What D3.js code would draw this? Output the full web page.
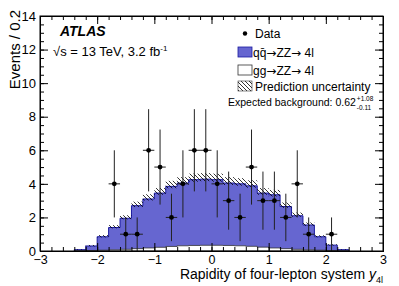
<!DOCTYPE html>
<html>
<head>
<meta charset="utf-8">
<script src="https://cdn.jsdelivr.net/npm/d3@7"></script>
<style>
  body { margin: 0; background: #fff; }
  text { font-family: "Liberation Sans", Arial, sans-serif; fill: #000; }
  .seta { font-family: "DejaVu Sans", sans-serif; }
</style>
</head>
<body>
<svg id="grafico"></svg>
<script>
// bins of width 0.2, lower edges
const binEdges = [-2.4, -2.2, -2.0, -1.8, -1.6, -1.4, -1.2, -1.0, -0.8, -0.6, -0.4, -0.2,
                  0.0, 0.2, 0.4, 0.6, 0.8, 1.0, 1.2, 1.4, 1.6, 1.8, 2.0, 2.2];
// gg -> ZZ -> 4l (white)
const ggValues = [0.01, 0.03, 0.05, 0.07, 0.10, 0.14, 0.18, 0.22, 0.27, 0.31, 0.33, 0.34,
                  0.34, 0.33, 0.31, 0.28, 0.23, 0.18, 0.14, 0.10, 0.07, 0.05, 0.03, 0.01];
// total (qq + gg) stacked height
const totalValues = [0.08, 0.30, 0.85, 1.40, 1.95, 2.70, 3.10, 3.45, 3.85, 4.05, 4.25, 4.28,
                     4.25, 4.05, 4.00, 3.88, 3.45, 3.35, 2.65, 2.10, 1.55, 0.85, 0.35, 0.08];
// prediction uncertainty (up / down)
const uncUp = [0.03, 0.06, 0.10, 0.14, 0.18, 0.24, 0.28, 0.30, 0.33, 0.35, 0.36, 0.36,
               0.36, 0.35, 0.34, 0.33, 0.30, 0.29, 0.24, 0.19, 0.15, 0.09, 0.05, 0.03];
const uncDn = [0.01, 0.02, 0.04, 0.05, 0.06, 0.08, 0.09, 0.10, 0.11, 0.12, 0.12, 0.12,
               0.12, 0.12, 0.11, 0.11, 0.10, 0.10, 0.08, 0.06, 0.05, 0.03, 0.02, 0.01];

const dataX = [-1.7, -1.5, -1.3, -1.1, -0.9, -0.7, -0.5, -0.3, -0.1, 0.1, 0.3, 0.5, 0.7, 0.9, 1.1, 1.3, 1.5, 1.7, 2.1];
const dataY = [4, 1, 1, 6, 5, 2, 4, 6, 6, 4, 3, 2, 5, 3, 3, 2, 4, 1, 1];

const xTicks = [-3, -2, -1, 0, 1, 2, 3];
const yTicks = [0, 2, 4, 6, 8, 10, 12, 14];

const largura = 399, altura = 286;
const margem = { esquerda: 40, direita: 16, superior: 16, inferior: 35 };
const larguraPlotagem = largura - margem.esquerda - margem.direita;
const alturaPlotagem = altura - margem.superior - margem.inferior;
const binW = 0.2;

let svg = d3.select('#grafico').attr('width', largura).attr('height', altura);

let defs = svg.append('defs');
defs.append('pattern')
    .attr('id', 'hachura')
    .attr('patternUnits', 'userSpaceOnUse')
    .attr('width', 4).attr('height', 4)
    .append('path')
    .attr('d', 'M0,0 L4,4 M-1,3 L1,5 M3,-1 L5,1')
    .attr('stroke', '#000').attr('stroke-width', 0.8);

let plotagem = svg.append('g')
    .attr('transform', 'translate(' + margem.esquerda + ',' + margem.superior + ')');

let fnX = d3.scaleLinear().domain([-3, 3]).range([0, larguraPlotagem]);
let fnY = d3.scaleLinear().domain([0, 14]).range([alturaPlotagem, 0]);

// step outline of a histogram
function areaDegraus(valores) {
    let pts = [];
    binEdges.forEach((e, i) => {
        pts.push([fnX(e), fnY(valores[i])]);
        pts.push([fnX(e + binW), fnY(valores[i])]);
    });
    let first = binEdges[0], last = binEdges[binEdges.length - 1] + binW;
    return 'M' + fnX(first) + ',' + fnY(0) + 'L' + pts.map(p => p.join(',')).join('L') +
        'L' + fnX(last) + ',' + fnY(0) + 'Z';
}

// qq (blue) stacked on top
plotagem.append('path')
    .attr('d', areaDegraus(totalValues))
    .attr('fill', '#6666d0')
    .attr('stroke', '#1a1aa0')
    .attr('stroke-width', 1);

// gg (white)
plotagem.append('path')
    .attr('d', areaDegraus(ggValues))
    .attr('fill', '#fff')
    .attr('stroke', '#333')
    .attr('stroke-width', 0.8);

// uncertainty band
plotagem.selectAll('.banda')
    .data(binEdges)
    .enter()
    .append('rect')
    .classed('banda', true)
    .attr('x', (d) => fnX(d))
    .attr('width', fnX(binW) - fnX(0))
    .attr('y', (d, i) => fnY(totalValues[i] + uncUp[i]))
    .attr('height', (d, i) => fnY(totalValues[i] - uncDn[i]) - fnY(totalValues[i] + uncUp[i]))
    .attr('fill', 'url(#hachura)');

// data points with sqrt(N) errors
let pontos = plotagem.selectAll('.ponto').data(dataX.map((x, i) => ({ x: x, y: dataY[i] })))
    .enter().append('g').classed('ponto', true);
pontos.append('line')
    .attr('x1', (d) => fnX(d.x)).attr('x2', (d) => fnX(d.x))
    .attr('y1', (d) => fnY(d.y + Math.sqrt(d.y)))
    .attr('y2', (d) => fnY(Math.max(0, d.y - Math.sqrt(d.y))))
    .attr('stroke', '#222').attr('stroke-width', 1);
pontos.append('line')
    .attr('x1', (d) => fnX(d.x - binW / 2)).attr('x2', (d) => fnX(d.x + binW / 2))
    .attr('y1', (d) => fnY(d.y)).attr('y2', (d) => fnY(d.y))
    .attr('stroke', '#222').attr('stroke-width', 1);
pontos.append('circle')
    .attr('cx', (d) => fnX(d.x)).attr('cy', (d) => fnY(d.y))
    .attr('r', 2.4).attr('fill', '#000');

// axes, ticks inside and mirrored
let eixoX = d3.axisBottom(fnX).tickValues(xTicks).tickSize(-8).tickPadding(9)
    .tickFormat((d) => d < 0 ? '\u2212' + Math.abs(d) : d);
let eixoXmenor = d3.axisBottom(fnX).ticks(30).tickSize(-4).tickFormat('');
let eixoY = d3.axisLeft(fnY).tickValues(yTicks).tickSize(-8).tickPadding(4);
let eixoYmenor = d3.axisLeft(fnY).ticks(28).tickSize(-4).tickFormat('');

plotagem.append('g').attr('transform', 'translate(0,' + alturaPlotagem + ')').call(eixoXmenor);
plotagem.append('g').attr('id', 'eixoX').attr('transform', 'translate(0,' + alturaPlotagem + ')').call(eixoX);
plotagem.append('g').call(d3.axisTop(fnX).ticks(30).tickSize(-4).tickFormat(''));
plotagem.append('g').call(d3.axisTop(fnX).tickValues(xTicks).tickSize(-8).tickFormat(''));
plotagem.append('g').call(eixoYmenor);
plotagem.append('g').attr('id', 'eixoY').call(eixoY);
plotagem.append('g').attr('transform', 'translate(' + larguraPlotagem + ',0)')
    .call(d3.axisRight(fnY).ticks(28).tickSize(-4).tickFormat(''));
plotagem.append('g').attr('transform', 'translate(' + larguraPlotagem + ',0)')
    .call(d3.axisRight(fnY).tickValues(yTicks).tickSize(-8).tickFormat(''));

plotagem.selectAll('.domain').attr('stroke', '#000');
plotagem.selectAll('.tick line').attr('stroke', '#000');
plotagem.selectAll('.tick text')
    .style('font-family', '"Liberation Sans", Arial, sans-serif')
    .style('font-size', '13px')
    .attr('fill', '#000');
plotagem.select('#eixoX').selectAll('.tick text').style('font-size', '12.5px').attr('dy', '0.3em');
plotagem.append('rect')
    .attr('width', larguraPlotagem).attr('height', alturaPlotagem)
    .attr('fill', 'none').attr('stroke', '#000').attr('stroke-width', 1);

// axis titles
let tituloX = svg.append('text')
    .attr('x', margem.esquerda + larguraPlotagem)
    .attr('y', 279)
    .style('text-anchor', 'end')
    .style('font-size', '14px');
tituloX.append('tspan').text('Rapidity of four-lepton system ');
tituloX.append('tspan').style('font-style', 'italic').text('y');
tituloX.append('tspan').attr('dy', 4).style('font-size', '9px').text('4l');

svg.append('text')
    .attr('transform', 'translate(20,10) rotate(-90)')
    .style('text-anchor', 'end')
    .style('font-size', '15px')
    .text('Events / 0.2');

// ATLAS labels
svg.append('text')
    .attr('x', 60).attr('y', 36)
    .style('font-size', '14px').style('font-weight', 'bold').style('font-style', 'italic')
    .text('ATLAS');
let energia = svg.append('text').attr('x', 53).attr('y', 56).style('font-size', '13px');
energia.append('tspan').text('\u221As = 13 TeV, 3.2 fb');
energia.append('tspan').attr('dy', -5).style('font-size', '8px').text('-1');

// legend
let legenda = svg.append('g');
legenda.append('circle').attr('cx', 245).attr('cy', 33.5).attr('r', 2.2).attr('fill', '#000');
legenda.append('text').attr('x', 255).attr('y', 37.5).style('font-size', '12px').text('Data');
legenda.append('rect').attr('x', 238).attr('y', 47).attr('width', 14).attr('height', 10)
    .attr('fill', '#6666d0').attr('stroke', '#1a1aa0').attr('stroke-width', 0.8);
let lq = legenda.append('text').attr('x', 253).attr('y', 57).style('font-size', '12px');
lq.append('tspan').text('qq\u0304');
lq.append('tspan').classed('seta', true).text('\u2192');
lq.append('tspan').text('ZZ');
lq.append('tspan').classed('seta', true).text('\u2192');
lq.append('tspan').text(' 4l');
legenda.append('rect').attr('x', 238).attr('y', 65).attr('width', 14).attr('height', 10)
    .attr('fill', '#fff').attr('stroke', '#333').attr('stroke-width', 0.8);
let lg = legenda.append('text').attr('x', 253).attr('y', 74.5).style('font-size', '12px');
lg.append('tspan').text('gg');
lg.append('tspan').classed('seta', true).text('\u2192');
lg.append('tspan').text('ZZ');
lg.append('tspan').classed('seta', true).text('\u2192');
lg.append('tspan').text(' 4l');
legenda.append('rect').attr('x', 238).attr('y', 81).attr('width', 14).attr('height', 10)
    .attr('fill', 'url(#hachura)').attr('stroke', '#333').attr('stroke-width', 0.6);
legenda.append('text').attr('x', 255).attr('y', 90.5).style('font-size', '12px').text('Prediction uncertainty');

let fundo = legenda.append('text').attr('x', 228).attr('y', 106).style('font-size', '10.5px')
    .text('Expected background: 0.62');
let fimFundo = 228 + fundo.node().getComputedTextLength() + 1;
legenda.append('text').attr('x', fimFundo).attr('y', 100.5).style('font-size', '6.5px').text('+1.08');
legenda.append('text').attr('x', fimFundo).attr('y', 110).style('font-size', '6.5px').text('-0.11');
</script>
</body>
</html>
